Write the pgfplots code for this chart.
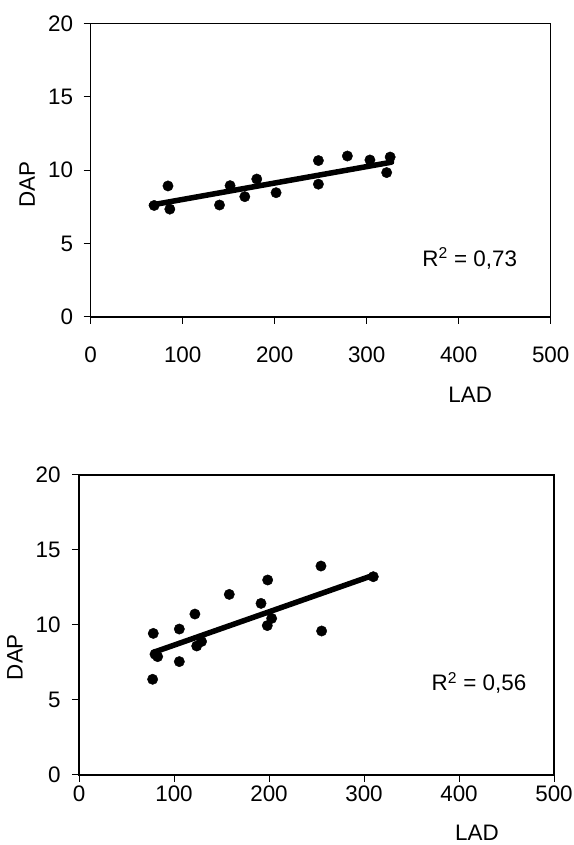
\documentclass[border=0pt]{standalone}
\usepackage{fontspec}
\setmainfont{Liberation Sans}
\usepackage{pgfplots}
\pgfplotsset{compat=1.18}
\newcommand{\fs}{\fontsize{22.5}{26}\selectfont}
\pgfplotsset{
  myax/.style={
    scale only axis,
    anchor=south west,
    xmin=0, xmax=500, ymin=0, ymax=20,
    xtick={0,100,...,500}, ytick={0,5,...,20},
    tick pos=left,
    tick align=outside,
    major tick length=7bp,
    axis line style={line width=1.4bp},
    every tick/.style={black, line width=1bp},
    /pgf/number format/assume math mode=true,
    tick label style={font=\fs},
    label style={font=\fs},
    xlabel={LAD}, ylabel={DAP},
    clip=false,
  },
  dots/.style={only marks, mark=*, mark size=5.2bp, black},
  trend/.style={no marks, black, line width=5.5bp, line cap=round},
}
\begin{document}
\begin{tikzpicture}
\path[use as bounding box] (0,0) rectangle (574bp,845bp);
% top chart
\begin{axis}[myax,
  at={(90.7bp,528bp)}, width=460bp, height=293.5bp,
  xticklabel style={yshift=-19bp},
  yticklabel style={xshift=-7bp},
  xlabel style={at={(axis description cs:0.825,-0.266)}, anchor=center},
  ylabel style={at={(axis description cs:-0.138,0.45)}, anchor=center, rotate=0},
]
\addplot[trend] coordinates {(66,7.63) (327,10.55)};
\addplot[dots] coordinates {
(69,7.6) (84,8.93) (86,7.35) (140,7.63) (151.5,8.95) (167.5,8.2) (180.5,9.4)
(201.5,8.47) (247.5,10.66) (247.5,9.05) (279,10.97) (303.5,10.7)
(321.7,9.84) (325.5,10.9)
};
\node[font=\fs] at (axis cs:412,4.0) {R\textsuperscript{2} = 0,73};
\end{axis}
% bottom chart
\begin{axis}[myax,
  at={(79bp,70bp)}, width=475bp, height=300bp,
  xticklabel style={yshift=0bp},
  yticklabel style={xshift=-8bp},
  xlabel style={at={(axis description cs:0.838,-0.192)}, anchor=center},
  ylabel style={at={(axis description cs:-0.135,0.393)}, anchor=center, rotate=0},
]
\addplot[trend] coordinates {(79,8.19) (310,13.32)};
\addplot[dots] coordinates {
(78.2,9.44) (77.5,6.38) (80,8.05) (82.8,7.89) (105.6,9.73) (105.6,7.56)
(122,10.73) (123.9,8.6) (129,8.9) (158.2,12.04) (198.6,13.0) (191.6,11.44)
(198.2,9.96) (202.8,10.44) (254.7,13.93) (255.4,9.6) (309.8,13.22)
};
\node[font=\fs] at (axis cs:421,6.13) {R\textsuperscript{2} = 0,56};
\end{axis}
\end{tikzpicture}
\end{document}
